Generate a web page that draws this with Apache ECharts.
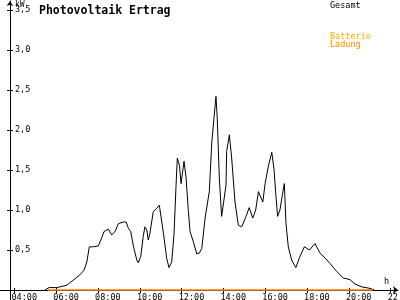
<!DOCTYPE html>
<html><head><meta charset="utf-8">
<script src="https://cdn.jsdelivr.net/npm/echarts@6/dist/echarts.min.js"></script>
<style>html,body{margin:0;padding:0;background:#fff}#c{width:400px;height:300px}</style>
</head><body><div id="c"></div>
<script>
// Time in decimal hours, power in kW
const gesamtTimes = [5.46,5.65,6.03,6.50,6.75,7.13,7.33,7.46,7.58,7.77,8.01,8.17,8.28,8.49,8.65,8.81,8.97,9.21,9.34,9.45,9.56,9.68,9.85,9.92,10.04,10.16,10.24,10.33,10.40,10.48,10.64,10.80,10.93,11.00,11.12,11.28,11.39,11.52,11.63,11.73,11.79,11.89,11.97,12.11,12.21,12.32,12.40,12.56,12.72,12.84,12.96,13.12,13.32,13.44,13.64,13.70,13.80,13.91,13.99,14.12,14.15,14.28,14.39,14.55,14.71,14.87,14.95,15.08,15.23,15.40,15.54,15.67,15.75,15.88,15.99,16.14,16.31,16.42,16.51,16.59,16.70,16.83,16.91,16.99,17.10,17.26,17.46,17.66,17.87,18.11,18.38,18.62,18.86,19.10,19.42,19.73,20.05,20.29,20.61,21.01,21.22];
const gesamtValues = [0,0.03,0.03,0.06,0.11,0.19,0.25,0.35,0.54,0.54,0.55,0.65,0.73,0.76,0.69,0.73,0.83,0.85,0.85,0.77,0.73,0.56,0.375,0.34,0.42,0.67,0.79,0.75,0.625,0.71,0.98,1.02,1.06,1.05,0.72,0.40,0.28,0.35,0.69,1.31,1.65,1.56,1.33,1.61,1.40,0.98,0.73,0.60,0.45,0.46,0.52,0.90,1.23,1.85,2.42,2.15,1.40,0.92,0.90,1.31,1.73,1.94,1.65,1.10,0.81,0.79,0.77,0.92,1.03,0.90,1.00,1.23,1.22,1.10,1.33,1.54,1.72,1.50,1.17,0.92,1.00,1.21,1.33,0.83,0.54,0.375,0.28,0.42,0.54,0.50,0.58,0.46,0.40,0.33,0.23,0.15,0.13,0.075,0.04,0.02,0];
const ladungTimes = [5.60,21.14];
const ladungValues = [0,0];
const xTickValues = [4,6,8,10,12,14,16,18,20,22];
const xTickLabels = ['04:00','06:00','08:00','10:00','12:00','14:00','16:00','18:00','20:00','22:00'];
const yTickValues = [0.5,1.0,1.5,2.0,2.5,3.0,3.5];
const yTickLabels = ['0,5','1,0','1,5','2,0','2,5','3,0','3,5'];

const FONT = 'DejaVu Sans Mono';
const xMin = 3.306, xMax = 22.349, xShift = 0.144;
const chart = echarts.init(document.getElementById('c'), null, {renderer:'canvas'});
const pair = (t, v) => t.map((x, i) => [x, v[i]]);
const xLab = v => xTickLabels[xTickValues.indexOf(v)];
const yLab = v => yTickLabels[yTickValues.findIndex(a => Math.abs(a - v) < 1e-6)];

chart.setOption({
  animation: false,
  backgroundColor: '#fff',
  title: {text: 'Photovoltaik Ertrag', left: 34, top: 0,
    textStyle: {fontFamily: FONT, fontWeight: 'bold', fontSize: 11.5, color: '#000', lineHeight: 13}},
  grid: {left: 0, right: 2, top: 1, bottom: 0, containLabel: false, outerBoundsMode: 'none'},
  xAxis: [
    {type: 'value', position: 'bottom', min: xMin, max: xMax, offset: -10,
     axisLine: {onZero: false, lineStyle: {color: '#000', width: 1}, symbol: ['none', 'arrow'], symbolSize: [6, 5]},
     axisTick: {show: true, inside: false, length: 3, customValues: xTickValues, lineStyle: {color: '#000'}},
     axisLabel: {show: false}, splitLine: {show: false}},
    {type: 'value', position: 'bottom', min: xMin, max: xMax, offset: -10,
     axisLine: {show: false, onZero: false},
     axisTick: {show: true, inside: true, length: 2, customValues: xTickValues, lineStyle: {color: '#000'}},
     axisLabel: {show: false}, splitLine: {show: false}},
    {type: 'value', position: 'bottom', min: xMin + xShift, max: xMax + xShift, offset: -10,
     axisLine: {show: false, onZero: false},
     axisTick: {show: false}, splitLine: {show: false},
     axisLabel: {show: true, customValues: xTickValues, formatter: xLab, align: 'left', margin: 3,
       fontFamily: FONT, fontSize: 8.5, color: '#000', showMinLabel: true, showMaxLabel: true, hideOverlap: false}}
  ],
  yAxis: [
    {type: 'value', min: -0.125, max: 3.6125, offset: -10, position: 'left',
     axisLine: {show: true, onZero: false, lineStyle: {color: '#000', width: 1}, symbol: ['none', 'arrow'], symbolSize: [5, 5]},
     axisTick: {show: true, inside: false, length: 3, customValues: yTickValues, lineStyle: {color: '#000'}},
     axisLabel: {show: false}, splitLine: {show: false}},
    {type: 'value', min: -0.125, max: 3.6125, offset: -10, position: 'left',
     axisLine: {show: false, onZero: false},
     axisTick: {show: true, inside: true, length: 3, customValues: yTickValues, lineStyle: {color: '#000'}},
     axisLabel: {show: true, inside: true, margin: 5, customValues: yTickValues, formatter: yLab,
       fontFamily: FONT, fontSize: 8.5, color: '#000', showMinLabel: true, showMaxLabel: true},
     splitLine: {show: false}}
  ],
  series: [
    {name: 'Gesamt', type: 'line', xAxisIndex: 0, yAxisIndex: 0, data: pair(gesamtTimes, gesamtValues),
     showSymbol: false, symbol: 'none', lineStyle: {color: '#000', width: 1}, smooth: false, z: 3},
    {name: 'Ladung', type: 'line', xAxisIndex: 0, yAxisIndex: 0, data: pair(ladungTimes, ladungValues),
     showSymbol: false, symbol: 'none', lineStyle: {color: '#FF8000', width: 1.5}, z: 4}
  ],
  graphic: [
    {type: 'text', left: 15, top: 1, style: {text: 'kW', font: '8px ' + FONT, fill: '#000'}},
    {type: 'text', left: 384, top: 277, style: {text: 'h', font: '8.5px ' + FONT, fill: '#000'}},
    {type: 'text', left: 330, top: 1, style: {text: 'Gesamt', font: '8.5px ' + FONT, fill: '#000'}},
    {type: 'text', left: 330, top: 32, style: {text: 'Batterie', font: '8.5px ' + FONT, fill: '#FFB000'}},
    {type: 'text', left: 330, top: 40, style: {text: 'Ladung', font: '8.5px ' + FONT, fill: '#FF8C00'}}
  ]
});
</script></body></html>
